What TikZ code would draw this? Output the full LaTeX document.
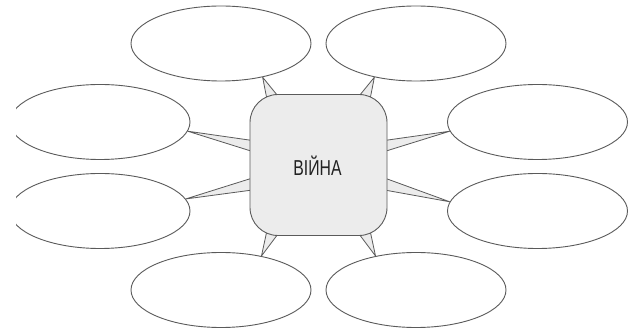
\documentclass[tikz,border=0pt]{standalone}
\usepackage{fontspec}
\setmainfont{Liberation Sans}
\usetikzlibrary{shapes.geometric,calc,backgrounds}
\definecolor{linec}{HTML}{5A5A5A}
\definecolor{boxfill}{HTML}{ECECEC}
\definecolor{textc}{HTML}{222222}
\tikzset{
  bubble/.style={ellipse, draw=linec, line width=0.9pt, fill=white,
    minimum width=180pt, minimum height=75pt, inner sep=0pt},
  centerbox/.style={rectangle, draw=linec, line width=0.9pt, fill=boxfill,
    rounded corners=28pt, minimum width=137pt, minimum height=141pt, inner sep=0pt},
  wedge/.style={draw=linec, line width=0.8pt, fill=boxfill, line join=round}
}
\begin{document}
\begin{tikzpicture}[x=1pt,y=-1pt]
\useasboundingbox (0,0) rectangle (635,336);
\begin{scope}
\clip (16,0) rectangle (635,336);
\node[bubble] (TL) at (221,43.5) {};
\node[bubble] (TR) at (416,43.5) {};
\node[bubble] (L1) at (100,122) {};
\node[bubble] (R1) at (537.5,122) {};
\node[bubble] (L2) at (100,211) {};
\node[bubble] (R2) at (537.5,211) {};
\node[bubble] (BL) at (221,290) {};
\node[bubble] (BR) at (416,290) {};
\end{scope}
\node[centerbox] (C) at (318.5,165) {};
\node[text=textc, font=\fontsize{21.6}{24}\selectfont, xscale=0.73] (T) at (317.5,166) {ВІЙНА};
\begin{pgfonlayer}{background}
\fill[white] (0,0) rectangle (635,336);
% left
\draw[wedge] (L1.-6) -- ($(C.center)+(-66,-24.5)$) -- ($(C.center)+(-66,-13.5)$) -- cycle;
\draw[wedge] (L2.8) -- ($(C.center)+(-66,13)$) -- ($(C.center)+(-66,25)$) -- cycle;
% right
\draw[wedge] (R1.186) -- ($(C.center)+(66,-24.5)$) -- ($(C.center)+(66,-13.5)$) -- cycle;
\draw[wedge] (R2.174) -- ($(C.center)+(66,13)$) -- ($(C.center)+(66,25)$) -- cycle;
% top
\draw[wedge] (TL.-39) -- ($(C.center)+(-51,-63)$) -- ($(C.center)+(-39,-67)$) -- cycle;
\draw[wedge] (TR.-141) -- ($(C.center)+(51,-63)$) -- ($(C.center)+(39,-67)$) -- cycle;
% bottom
\draw[wedge] (BL.40) -- ($(C.center)+(-51,63)$) -- ($(C.center)+(-39,67)$) -- cycle;
\draw[wedge] (BR.140) -- ($(C.center)+(51,63)$) -- ($(C.center)+(39,67)$) -- cycle;
\end{pgfonlayer}
\end{tikzpicture}
\end{document}
